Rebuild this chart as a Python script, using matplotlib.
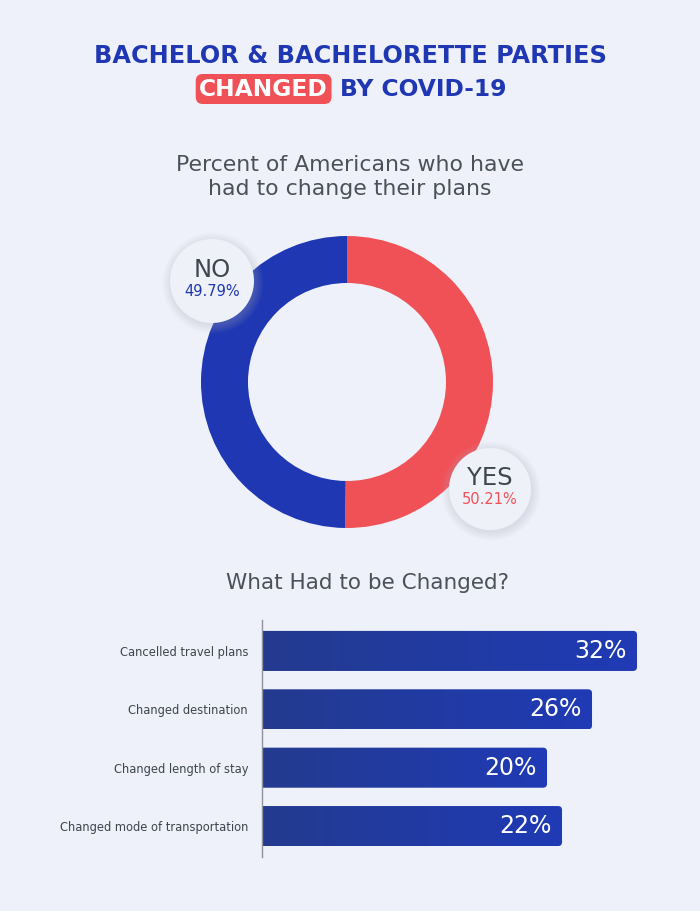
import matplotlib

matplotlib.use("Agg")
import matplotlib.pyplot as plt
import numpy as np
from matplotlib.colors import LinearSegmentedColormap
from matplotlib.patches import Circle, FancyBboxPatch

plt.rcParams["font.family"] = ["DejaVu Sans"]

# data
pie_labels = ["YES", "NO"]
pie_values = [50.21, 49.79]
bar_labels = [
    "Cancelled travel plans",
    "Changed destination",
    "Changed length of stay",
    "Changed mode of transportation",
]
bar_values = [32, 26, 20, 22]

BG = "#EEF1F9"
BLUE = "#1F37B2"
RED = "#F05157"
GRAY = "#4A5158"

W, H = 700, 911
fig = plt.figure(figsize=(W / 100, H / 100), dpi=100)
fig.patch.set_facecolor(BG)

# background axes in pixel coordinates for the free text
bg = fig.add_axes([0, 0, 1, 1])
bg.set_xlim(0, W)
bg.set_ylim(H, 0)
bg.axis("off")

bg.text(350, 56, "BACHELOR & BACHELORETTE PARTIES", ha="center", va="center",
        fontsize=17.3, fontweight="bold", color=BLUE)
bg.text(328, 89, "CHANGED", ha="right", va="center", fontsize=16.8,
        fontweight="bold", color="white",
        bbox={"boxstyle": "round,pad=0.15,rounding_size=0.3", "fc": RED, "ec": "none"})
bg.text(340, 89, "BY COVID-19", ha="left", va="center", fontsize=16.8,
        fontweight="bold", color=BLUE)

bg.text(350, 177, "Percent of Americans who have\nhad to change their plans",
        ha="center", va="center", fontsize=15.8, color=GRAY, linespacing=1.3)
bg.text(368, 583, "What Had to be Changed?", ha="center", va="center",
        fontsize=15.5, color=GRAY)

# donut
cx, cy, half = 347, 382, 220
dax = fig.add_axes([(cx - half) / W, (H - cy - half) / H, 2 * half / W, 2 * half / H])
dax.pie(pie_values, colors=[RED, BLUE], startangle=90, counterclock=False,
        radius=146, wedgeprops={"width": 47, "linewidth": 0})
dax.set_xlim(-half, half)
dax.set_ylim(-half, half)
dax.axis("off")


def label_bubble(ax, x, y, r, title, value, color):
    for k in range(10):
        ax.add_patch(Circle((x + 1, y - 2), r + 0.5 + k * 0.9, fc="#B4BBCB",
                            ec="none", alpha=0.03, zorder=4))
    ax.add_patch(Circle((x, y), r, fc="#EFF1F8", ec="none", zorder=5))
    ax.text(x, y + 11, title, ha="center", va="center", fontsize=17.5,
            color="#3E474F", zorder=6)
    ax.text(x, y - 10, value, ha="center", va="center", fontsize=10.5,
            color=color, zorder=6)


label_bubble(dax, 212 - cx, cy - 281, 42, pie_labels[1], f"{pie_values[1]:.2f}%", BLUE)
label_bubble(dax, 490 - cx, cy - 489, 41, pie_labels[0], f"{pie_values[0]:.2f}%", RED)

# bars
x0, x1, y0, y1 = 262, 662, 620, 857
bax = fig.add_axes([x0 / W, (H - y1) / H, (x1 - x0) / W, (y1 - y0) / H])
bax.set_facecolor("none")
xmin, xmax = -18, 35.33
ypos = np.arange(len(bar_values))

bars = bax.barh(ypos, np.array(bar_values) - xmin, left=xmin, height=0.686,
                color="none", edgecolor="none")
cmap = LinearSegmentedColormap.from_list("barblue", ["#243A8F", "#1F3BB5"])
grad = np.linspace(0, 1, 256).reshape(1, -1)
px_x = (x1 - x0) / (xmax - xmin)
px_y = (y1 - y0) / (len(bar_values) - 0.47 + 0.53)
for bar, v in zip(bars, bar_values):
    bx, by, bw, bh = bar.get_x(), bar.get_y(), bar.get_width(), bar.get_height()
    shape = FancyBboxPatch((bx - 2, by), bw + 2, bh,
                           boxstyle="round,pad=0,rounding_size=%f" % (4 / px_x),
                           mutation_aspect=px_x / px_y, fc="none", ec="none")
    bax.add_patch(shape)
    im = bax.imshow(grad, cmap=cmap, aspect="auto",
                    extent=(bx, bx + bw, by + bh, by), zorder=2)
    im.set_clip_path(shape)
    bax.text(v - 10 / px_x, by + bh / 2, f"{v}%", ha="right", va="center",
             fontsize=17, color="white", zorder=3)

bax.set_xlim(xmin, xmax)
bax.set_ylim(len(bar_values) - 0.47, -0.53)
bax.set_yticks(ypos)
bax.set_yticklabels(bar_labels, fontsize=8.3, color="#3C454D")
bax.tick_params(axis="y", length=0, pad=10)
bax.set_xticks([])
for side in ["top", "right", "bottom"]:
    bax.spines[side].set_visible(False)
bax.spines["left"].set_color("#8C939B")
bax.spines["left"].set_linewidth(1)
bax.spines["left"].set_zorder(4)

fig.savefig("out.png", dpi=100, facecolor=BG)
